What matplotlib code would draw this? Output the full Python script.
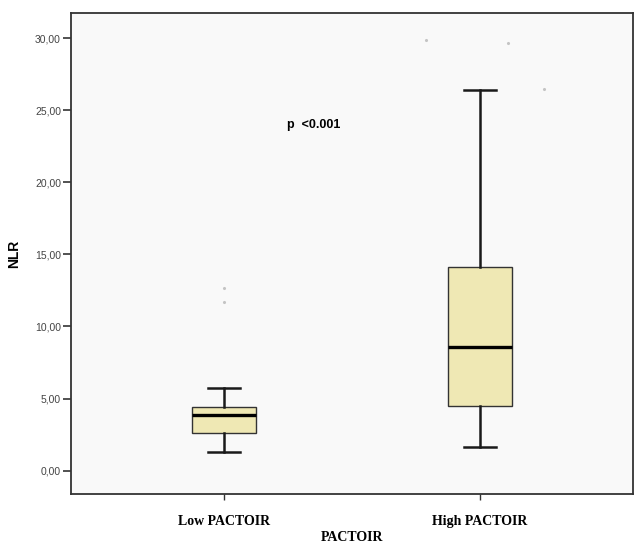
import matplotlib
matplotlib.use("Agg")
from matplotlib import pyplot as plt

# values (NLR by PACTOIR group)
groups = ["Low PACTOIR", "High PACTOIR"]
whisker_low = [1.3, 1.65]
q1 = [2.6, 4.5]
median = [3.85, 8.6]
q3 = [4.4, 14.1]
whisker_high = [5.7, 26.4]
# faint outlier dots (group position, value)
outlier_x = [0.0, 0.0, 0.79, 1.11, 1.25]
outlier_y = [12.7, 11.7, 29.9, 29.7, 26.5]
yticks = [0, 5, 10, 15, 20, 25, 30]

fig = plt.figure(figsize=(6.34, 5.47), dpi=100)
ax = fig.add_axes([0.1115, 0.097, 0.8875, 0.879])
ax.set_facecolor("#f9f9f9")

stats = []
for i in range(len(groups)):
    stats.append({"whislo": whisker_low[i], "q1": q1[i], "med": median[i],
                  "q3": q3[i], "whishi": whisker_high[i], "fliers": []})

ax.bxp(stats, positions=[0, 1], widths=0.25, patch_artist=True,
       showfliers=False,
       boxprops=dict(facecolor="#efe8b4", edgecolor="#333333", linewidth=1.0),
       medianprops=dict(color="black", linewidth=2.4),
       whiskerprops=dict(color="#1a1a1a", linewidth=1.8),
       capprops=dict(color="#1a1a1a", linewidth=1.8),
       capwidths=0.125)

ax.scatter(outlier_x, outlier_y, s=1.5, color="#c4c4c4", zorder=3)

ax.text(0.245, 23.95, "p  <0.001", fontsize=9, fontweight="bold",
        family="Liberation Sans", va="center", ha="left")

ax.set_xlim(-0.6, 1.6)
ax.set_ylim(-1.62, 31.74)
ax.set_yticks(yticks)
ax.set_yticklabels(["%d,00" % v for v in yticks], fontsize=7.5,
                   family="Liberation Sans", color="#444444")
ax.set_xticks([0, 1])
ax.set_xticklabels(groups, fontsize=10, fontweight="bold",
                   family="Liberation Serif")
ax.tick_params(axis="y", length=6, width=1.2, color="#333333", pad=1)
ax.tick_params(axis="x", length=4, width=1, color="#333333", pad=11)

ax.set_xlabel("PACTOIR", fontsize=10, fontweight="bold",
              family="Liberation Serif", labelpad=2)
ax.set_ylabel("NLR", fontsize=10, fontweight="bold",
              family="Liberation Sans", labelpad=10)

for s in ax.spines.values():
    s.set_color("#333333")
    s.set_linewidth(1.3)

plt.savefig("out.png", dpi=100)
